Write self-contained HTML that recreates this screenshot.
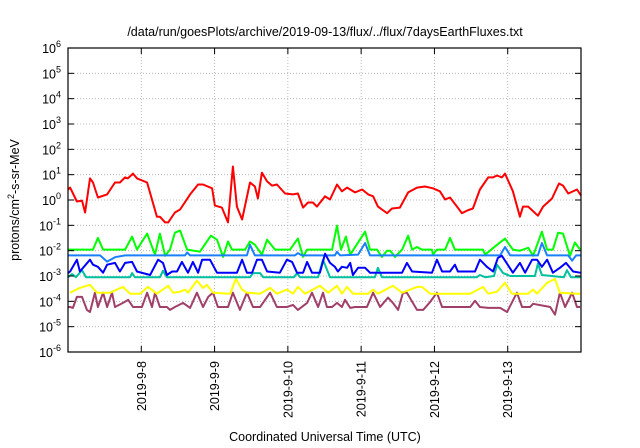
<!DOCTYPE html>
<html><head><meta charset="utf-8"><style>
html,body{margin:0;padding:0;background:#fff;}
svg{display:block;font-family:"Liberation Sans",sans-serif;}
</style></head><body>
<svg id="chart" width="640" height="448" viewBox="0 0 640 448" xmlns="http://www.w3.org/2000/svg">
<rect x="0" y="0" width="640" height="448" fill="#fff"/>
<text x="325" y="36" font-size="12.5" text-anchor="middle">/data/run/goesPlots/archive/2019-09-13/flux/../flux/7daysEarthFluxes.txt</text>
<g id="grid"></g>
<g id="series"></g>
<rect x="68" y="48" width="513" height="304" fill="none" stroke="#000" stroke-width="1.2"/>
<g id="axes"></g>
<text transform="translate(19,200) rotate(-90)" font-size="12.5" text-anchor="middle">protons/cm<tspan dy="-5" font-size="9">2</tspan><tspan dy="5">-s-sr-MeV</tspan></text>
<text x="325" y="441" font-size="12.5" text-anchor="middle">Coordinated Universal Time (UTC)</text>
</svg>
<script>
var dayLabels = ["2019-9-8","2019-9-9","2019-9-10","2019-9-11","2019-9-12","2019-9-13"];
var yExps = [-6,-5,-4,-3,-2,-1,0,1,2,3,4,5,6];

var redHours = [0,0.7,2.9,4.6,5.6,7.2,8.2,9.8,12.8,15.4,17.0,18.7,19.6,21.3,22.6,25.9,29.1,30.1,31.8,32.8,35.0,36.7,40.0,42.6,44.2,47.2,48.1,50.4,52.4,54.0,55.3,57.0,59.6,61.2,62.2,63.5,65.2,66.8,68.4,71.1,73.7,75.3,77.0,78.6,80.2,81.5,84.2,85.8,88.1,89.7,91.4,94.0,96.3,98.3,99.9,101.5,104.5,106.1,108.7,111.4,114.3,116.9,119.5,121.8,123.5,125.1,127.4,129.0,130.7,132.6,134.9,137.6,139.2,140.5,142.1,143.1,145.7,148.0,149.0,150.7,153.9,155.6,158.5,160.8,162.1,163.8,166.7,168];
var redValues = [2.6,3.1,0.87,0.95,0.32,7.1,4.9,1.26,1.66,4.9,4.9,7.8,7.1,11,7.1,4.9,0.22,0.22,0.13,0.13,0.32,0.42,1.66,4.1,4.1,2.9,0.6,0.5,0.13,21,0.55,0.17,4.9,3.4,1.15,12,5.4,3.7,4.1,1.8,1.66,1.8,0.5,0.8,0.8,0.55,1.4,1.05,4.1,2.2,3.1,2.0,2.6,1.66,1.4,0.55,0.30,0.46,0.5,2.0,3.1,3.4,2.9,2.2,1.05,1.26,0.55,0.30,0.38,0.46,2.6,7.8,7.8,9.3,7.8,11,2.2,0.22,0.55,0.55,0.24,0.55,1.15,4.5,3.7,1.8,2.6,1.5];

var greenHours = [0,0.7,8.2,9.8,11.5,18.7,21.0,22.6,25.9,28.5,30.1,31.8,33.4,35.0,36.7,39.0,43.2,46.8,48.8,50.8,52.4,53.7,58.0,59.6,61.2,63.5,65.2,67.8,72.7,75.3,77.0,78.3,82.5,86.5,88.1,89.4,91.0,92.4,97.3,98.9,101.2,102.8,104.5,105.5,107.1,109.4,111.4,112.7,114.3,115.9,119.2,119.5,120.8,123.5,125.1,126.7,135.9,136.6,140.5,143.1,145.7,148.0,150.7,152.3,155.2,156.9,158.8,160.5,162.1,164.4,166.0,167.7];
var greenValues = [0.011,0.011,0.011,0.032,0.011,0.011,0.036,0.011,0.047,0.0069,0.047,0.0063,0.011,0.051,0.062,0.011,0.0091,0.039,0.027,0.0057,0.023,0.011,0.011,0.023,0.017,0.0069,0.027,0.011,0.011,0.030,0.0057,0.011,0.011,0.011,0.098,0.011,0.036,0.0069,0.056,0.011,0.011,0.0057,0.010,0.010,0.0057,0.011,0.039,0.011,0.014,0.011,0.011,0.0069,0.011,0.011,0.032,0.011,0.011,0.0069,0.017,0.030,0.011,0.010,0.013,0.0063,0.056,0.011,0.011,0.051,0.047,0.0063,0.021,0.011];

var lightBlueHours = [0,10.5,12.8,15.4,18.7,38.3,39.0,40.0,58.6,59.6,61.2,74.3,75.3,76.6,87.4,88.1,89.1,95.0,97.3,98.9,141.5,143.1,144.8,153.9,155.2,156.9,163.8,165.1,166.4,168];
var lightBlueValues = [0.0065,0.0065,0.0037,0.0055,0.0065,0.0065,0.0085,0.0065,0.0065,0.017,0.0065,0.0065,0.008,0.0065,0.0065,0.009,0.0065,0.007,0.02,0.0065,0.0065,0.014,0.0065,0.0065,0.02,0.0065,0.0065,0.004,0.0065,0.0065];

var blueHours = [0,0.7,2.9,3.9,7.2,8.2,9.8,11.5,12.8,15.4,17.0,18.7,21.0,22.6,26.9,29.5,31.1,32.4,34.1,35.7,37.3,39.3,40.9,42.6,43.9,46.5,48.8,55.3,57.0,58.6,60.3,61.9,63.5,65.2,69.4,71.7,73.4,75.0,77.0,78.3,79.9,82.5,84.2,85.8,87.4,88.4,89.7,91.4,92.4,93.3,95.0,97.3,98.9,109.4,111.0,112.7,119.2,120.8,122.5,125.1,126.7,127.7,133.3,134.9,137.2,139.2,140.8,142.1,145.7,148.0,149.7,152.0,153.6,155.2,156.9,158.8,161.1,163.1,165.4,167.7,168];
var blueValues = [0.0013,0.0015,0.0044,0.0015,0.0044,0.0028,0.0023,0.00135,0.0028,0.0033,0.0015,0.0033,0.0036,0.0015,0.0011,0.0044,0.0033,0.0011,0.0015,0.0015,0.0036,0.00135,0.0036,0.00135,0.0044,0.0044,0.00135,0.00135,0.0044,0.00135,0.00135,0.0044,0.0044,0.0015,0.00135,0.0044,0.0036,0.00135,0.00135,0.0036,0.00135,0.00135,0.0076,0.0033,0.0023,0.0015,0.0023,0.0021,0.0033,0.0011,0.0021,0.0021,0.00135,0.00135,0.0033,0.0015,0.00135,0.0044,0.0015,0.0015,0.0028,0.0015,0.0015,0.0044,0.0023,0.0015,0.0052,0.0063,0.00135,0.0033,0.00135,0.0044,0.0044,0.0023,0.0044,0.00135,0.0021,0.0033,0.0015,0.00135,0.00135];

var tealHours = [0,1.3,2.6,4.6,5.9,20.3,21.0,21.9,30.1,31.1,32.4,59.6,60.6,62.9,63.9,74.0,75.0,76.0,81.9,83.5,85.8,100.5,101.5,102.8,133.9,134.9,136.6,139.5,140.5,142.5,144.8,152.9,153.9,155.2,162.4,163.4,164.7,168];
var tealValues = [0.0009,0.0012,0.0009,0.0017,0.0009,0.0009,0.0013,0.0009,0.0009,0.0016,0.0009,0.0009,0.0013,0.0013,0.0009,0.0009,0.0013,0.0009,0.0009,0.0044,0.0009,0.0009,0.0021,0.0009,0.0009,0.0011,0.0009,0.001,0.0028,0.0013,0.001,0.001,0.0031,0.0011,0.0009,0.0017,0.0009,0.0009];

var yellowHours = [0.7,3.9,7.2,9.5,12.1,13.8,18.0,20.3,23.6,26.2,29.1,32.8,34.4,36.7,38.3,39.3,42.2,44.2,45.5,47.5,53.1,55.0,57.0,58.6,62.9,66.2,68.4,71.7,73.7,75.3,77.6,82.5,85.2,88.1,89.7,91.4,93.3,98.3,99.9,101.5,106.4,109.4,114.3,115.9,118.6,131.7,135.9,137.6,140.5,143.1,145.4,150.7,152.3,153.6,156.9,159.5,161.1,166.7,167.7];
var yellowValues = [0.00022,0.00034,0.00045,0.00022,0.00022,0.00022,0.00037,0.0002,0.0002,0.00037,0.0002,0.00041,0.00022,0.00024,0.00029,0.00022,0.00065,0.00034,0.00045,0.00022,0.0002,0.00077,0.00029,0.00022,0.0002,0.00034,0.0002,0.00029,0.0002,0.00037,0.0002,0.00041,0.00022,0.00041,0.0002,0.00037,0.0002,0.0002,0.00029,0.0002,0.00041,0.00022,0.00037,0.00037,0.0002,0.0002,0.00037,0.0002,0.00024,0.00054,0.0002,0.0002,0.00029,0.0002,0.00054,0.00077,0.00022,0.0002,0.0002];

var maroonHours = [0,0.7,1.6,2.9,4.6,6.2,7.2,8.8,9.8,11.5,12.8,14.4,15.4,18.0,19.7,21.3,24.2,25.9,27.5,28.5,30.1,32.4,33.4,35.0,37.7,40.0,42.2,44.2,45.9,47.5,49.1,52.4,54.0,56.3,58.6,60.6,62.9,66.2,68.4,71.7,73.7,75.3,78.3,79.9,81.9,83.5,84.8,86.5,88.1,89.7,90.7,92.4,94.0,97.9,99.9,102.2,104.8,106.4,108.1,109.7,111.0,114.3,116.3,118.6,120.8,122.5,126.1,131.7,133.3,134.9,137.6,141.5,143.8,147.0,148.7,151.3,152.3,157.9,159.5,161.1,162.8,165.1,166.7,167.7];
var maroonValues = [6e-5,6e-5,5.5e-5,1.5e-4,1.5e-4,4.6e-5,3.8e-5,2.2e-4,6e-5,2.2e-4,6e-5,2.2e-4,6e-5,8.7e-5,1.15e-4,6e-5,6e-5,2.2e-4,6e-5,2.2e-4,6e-5,6e-5,4.6e-5,6e-5,8.7e-5,5.5e-5,2.2e-4,6e-5,1.5e-4,2.2e-4,6e-5,6e-5,2.2e-4,4.6e-5,2.2e-4,6e-5,6e-5,2.2e-4,6e-5,6e-5,7.2e-5,4.6e-5,8.7e-5,2.2e-4,6e-5,2.2e-4,6e-5,6e-5,8.7e-5,6e-5,1.15e-4,5.5e-5,6e-5,6e-5,2.2e-4,6e-5,1.4e-4,8.7e-5,4.6e-5,2.2e-4,2.2e-4,4.6e-5,4.6e-5,9.5e-5,2.2e-4,6e-5,6e-5,6e-5,1.05e-4,6e-5,5.5e-5,5.5e-5,3.8e-5,2.2e-4,6e-5,6e-5,8e-5,6e-5,3e-5,2.2e-4,6e-5,2.2e-4,6e-5,6e-5];

var NS = "http://www.w3.org/2000/svg";
var X0 = 68, X1 = 581, Y0 = 48, Y1 = 352, HMAX = 168;
function xScale(h){ return X0 + (h / HMAX) * (X1 - X0); }
function yScale(v){ var l = Math.log10(v); return Y1 - (l + 6) / 12 * (Y1 - Y0); }
function mk(tag, attrs, parent){ var e = document.createElementNS(NS, tag); for (var k in attrs) e.setAttribute(k, attrs[k]); parent.appendChild(e); return e; }

var grid = document.getElementById("grid");
var axes = document.getElementById("axes");
yExps.forEach(function(ex){
  var y = yScale(Math.pow(10, ex));
  if (ex > -6 && ex < 6) {
    var g = mk("line", {x1:X0, x2:X1, y1:y, y2:y, stroke:"#aaa", "stroke-width":0.8, "stroke-dasharray":"1,2"}, grid);
    
    
  }
  var t1 = mk("line", {x1:X0, x2:X0+6, y1:y, y2:y, stroke:"#000", "stroke-width":1}, axes);
  
  
  var t2 = mk("line", {x1:X1-6, x2:X1, y1:y, y2:y, stroke:"#000", "stroke-width":1}, axes);
  
  
  var tx = mk("text", {x:61, y:y+5, "font-size":12.5, "text-anchor":"end"}, axes);
  
  
  tx.appendChild(document.createTextNode("10"));
  var sup = mk("tspan", {dy:-6, "font-size":9}, tx);
  sup.textContent = String(ex);
});
dayLabels.forEach(function(lbl, i){
  var x = xScale((i + 1) * 24);
  var g = mk("line", {x1:x, x2:x, y1:Y0, y2:Y1, stroke:"#aaa", "stroke-width":0.8, "stroke-dasharray":"1,2"}, grid);
  
  
  var t1 = mk("line", {x1:x, x2:x, y1:Y1-6, y2:Y1, stroke:"#000", "stroke-width":1}, axes);
  
  
  var t2 = mk("line", {x1:x, x2:x, y1:Y0, y2:Y0+6, stroke:"#000", "stroke-width":1}, axes);
  
  
  var tx = mk("text", {transform:"translate(" + (x+4.5) + ",361) rotate(-90)", "font-size":12.5, "text-anchor":"end"}, axes);
  
  
  tx.textContent = lbl;
});

var seriesG = document.getElementById("series");
function drawSeries(hours, values, color, name){
  var pts = hours.map(function(h, i){ return xScale(h).toFixed(1) + "," + yScale(values[i]).toFixed(1); }).join(" ");
  var p = mk("polyline", {points:pts, fill:"none", stroke:color, "stroke-width":2, "stroke-linejoin":"round"}, seriesG);
  
  
}
drawSeries(maroonHours, maroonValues, "#a0406a", "maroon-series");
drawSeries(yellowHours, yellowValues, "#ffff00", "yellow-series");
drawSeries(tealHours, tealValues, "#00c0a0", "teal-series");
drawSeries(greenHours, greenValues, "#00ff00", "green-series");
drawSeries(lightBlueHours, lightBlueValues, "#1a80ff", "light-blue-series");
drawSeries(blueHours, blueValues, "#0000ff", "blue-series");
drawSeries(redHours, redValues, "#ff0000", "red-series");
</script>
</body></html>
